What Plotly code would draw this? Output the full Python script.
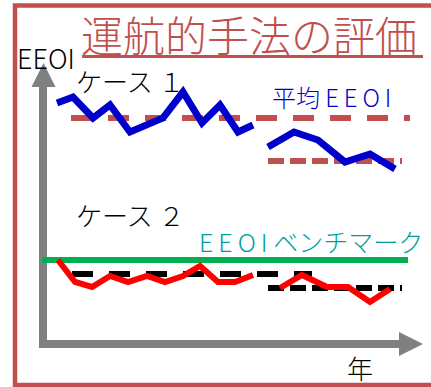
import plotly.graph_objects as go

# ---- data (schematic time units on x, EEOI level as screen-like units on y) ----
case1_p1_x = [57, 73, 93, 110, 130, 163, 183, 202, 220, 238, 253]
case1_p1_eeoi = [103, 97, 118, 105, 132, 118, 92, 123, 105, 132, 125]
case1_p2_x = [268, 294, 318, 345, 370, 395]
case1_p2_eeoi = [147, 132, 140, 162, 154, 169]
case1_avg1 = {"x": [71, 410], "y": 118}
case1_avg2 = {"x": [268, 402], "y": 161}

case2_p1_x = [58, 75, 92, 110, 128, 147, 165, 183, 200, 218, 235, 253]
case2_p1_eeoi = [260, 282, 287, 276, 282, 276, 282, 276, 266, 282, 282, 275]
case2_p2_x = [280, 302, 327, 348, 370, 390]
case2_p2_eeoi = [288, 275, 287, 287, 302, 289]
case2_avg1 = {"x": [72, 312], "y": 274}
case2_avg2 = {"x": [268, 402], "y": 288}

benchmark = {"x": [42, 408], "y": 260}

FONT = "Noto Sans CJK JP"
BROWN = "#C0504D"
GRAY = "#808080"
TS = "\u2009"  # thin space for wide lettering

fig = go.Figure()

def line(x, y, color, width, dash=None):
    fig.add_trace(go.Scatter(x=x, y=y, mode="lines", hoverinfo="skip",
                             line=dict(color=color, width=width, dash=dash),
                             showlegend=False))

# average lines
line(case1_avg1["x"], [case1_avg1["y"]] * 2, BROWN, 6, "21px,16px")
line(case1_avg2["x"], [case1_avg2["y"]] * 2, BROWN, 6, "16px,6px")
line(case2_avg1["x"], [case2_avg1["y"]] * 2, "#000000", 6, "21px,16px")
line(case2_avg2["x"], [case2_avg2["y"]] * 2, "#000000", 6, "16px,6px")
# benchmark
line(benchmark["x"], [benchmark["y"]] * 2, "#00B050", 6)
# series
line(case1_p1_x, case1_p1_eeoi, "#0000CC", 7)
line(case1_p2_x, case1_p2_eeoi, "#0000CC", 7)
line(case2_p1_x, case2_p1_eeoi, "#FF0000", 6)
line(case2_p2_x, case2_p2_eeoi, "#FF0000", 6)

shapes = [
    # frame
    dict(type="rect", x0=15, y0=5.5, x1=445, y1=385, line=dict(color=BROWN, width=4.5)),
    # title underline
    dict(type="line", x0=82, x1=423, y0=56.5, y1=56.5, line=dict(color=BROWN, width=3)),
    # y axis arrow
    dict(type="line", x0=43, x1=43, y0=86, y1=347, line=dict(color=GRAY, width=8)),
    dict(type="path", path="M 31.5 87 L 55.5 87 L 43.5 63 Z", fillcolor=GRAY, line=dict(width=0)),
    # x axis arrow
    dict(type="line", x0=39, x1=400, y0=344, y1=344, line=dict(color=GRAY, width=8)),
    dict(type="path", path="M 399 332 L 399 356 L 423 344 Z", fillcolor=GRAY, line=dict(width=0)),
]
for s in shapes:
    s["xref"] = "x"; s["yref"] = "y"; s["layer"] = "below"
fig.update_layout(shapes=shapes)

def text(t, x, y, size, color):
    fig.add_annotation(text=t, x=x, y=y, xref="x", yref="y", xanchor="left",
                       yanchor="middle", showarrow=False, borderpad=0,
                       font=dict(family=FONT, size=size, color=color, weight=300))

text("運航的手法の評価", 80, 33, 42, BROWN)
text("EEOI", 16, 57, 27, "#000000")
text("ケース １", 75, 80, 26, "#000000")
text("ケース ２", 75, 214, 26, "#000000")
text("平均 " + TS.join("EEOI"), 271, 96, 24, "#0000CC")
text(TS.join("EEOI") + " ベンチマーク", 198, 241, 25, "#009E9E")
text("年", 346, 367, 26, "#000000")

fig.update_xaxes(range=[0, 431], visible=False, fixedrange=True)
fig.update_yaxes(range=[387, 0], visible=False, fixedrange=True)
fig.update_layout(width=431, height=387, margin=dict(l=0, r=0, t=0, b=0),
                  paper_bgcolor="white", plot_bgcolor="white")

fig.write_html("out.html", config={"displayModeBar": False})
